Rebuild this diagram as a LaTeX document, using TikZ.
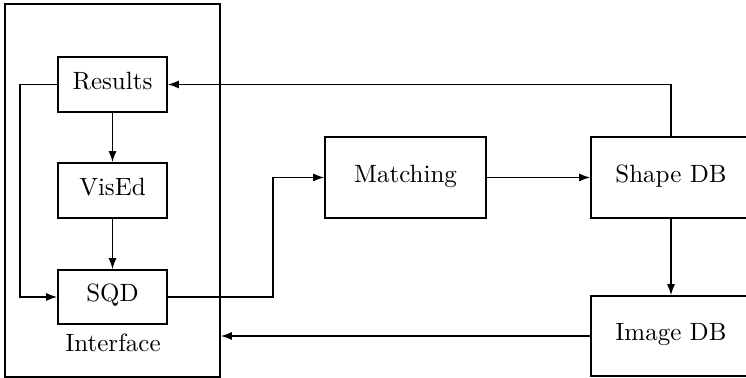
\documentclass[tikz,border=0pt]{standalone}
\usetikzlibrary{arrows.meta}
\begin{document}
\begin{tikzpicture}[x=0.4pt,y=-0.4pt,
  font=\fontsize{10}{12}\selectfont,
  box/.style={draw, line width=0.66pt, rectangle, inner sep=0pt, anchor=center, text height=6.9pt, text depth=3.1pt},
  conn/.style={line width=0.58pt, -{Latex[length=4.4pt,width=3.2pt]}}]
\useasboundingbox (0,0) rectangle (746,378);
\clip (0,0) rectangle (746,378);
\node[box, minimum width=86pt, minimum height=149.2pt] (iface) at (112.5,190.5) {};
\node[box, minimum width=43.6pt, minimum height=22pt] (results) at (112.5,84.5) {Results};
\node[box, minimum width=43.6pt, minimum height=22pt] (vised) at (112.5,190.5) {VisEd};
\node[box, minimum width=43.6pt, minimum height=21.6pt] (sqd) at (112.5,297) {SQD};
\node[inner sep=0pt, text height=6.9pt, text depth=3.1pt] (ilabel) at (113,347) {Interface};
\node[box, minimum width=64.4pt, minimum height=32.4pt] (match) at (405.5,177.5) {Matching};
\node[box, minimum width=64pt, minimum height=32.4pt] (shape) at (671,177.5) {Shape DB};
\node[box, minimum width=64pt, minimum height=32pt] (image) at (671,336) {Image DB};
\coordinate (c1) at (20,84.5);
\coordinate (c2) at (20,297);
\coordinate (c3) at (273,297);
\coordinate (c4) at (273,177.5);
\coordinate (c5) at (671,84.5);
\draw[conn] (results.west) -- (c1) -- (c2) -- (sqd.west);
\draw[conn] (results.south) -- (vised.north);
\draw[conn] (vised.south) -- (sqd.north);
\draw[conn] (sqd.east) -- (c3) -- (c4) -- (match.west);
\draw[conn] (match.east) -- (shape.west);
\draw[conn] (shape.north) -- (c5) -- (results.east);
\draw[conn] (shape.south) -- (image.north);
\draw[conn] (image.west) -- (image.west -| iface.east);
\end{tikzpicture}
\end{document}
